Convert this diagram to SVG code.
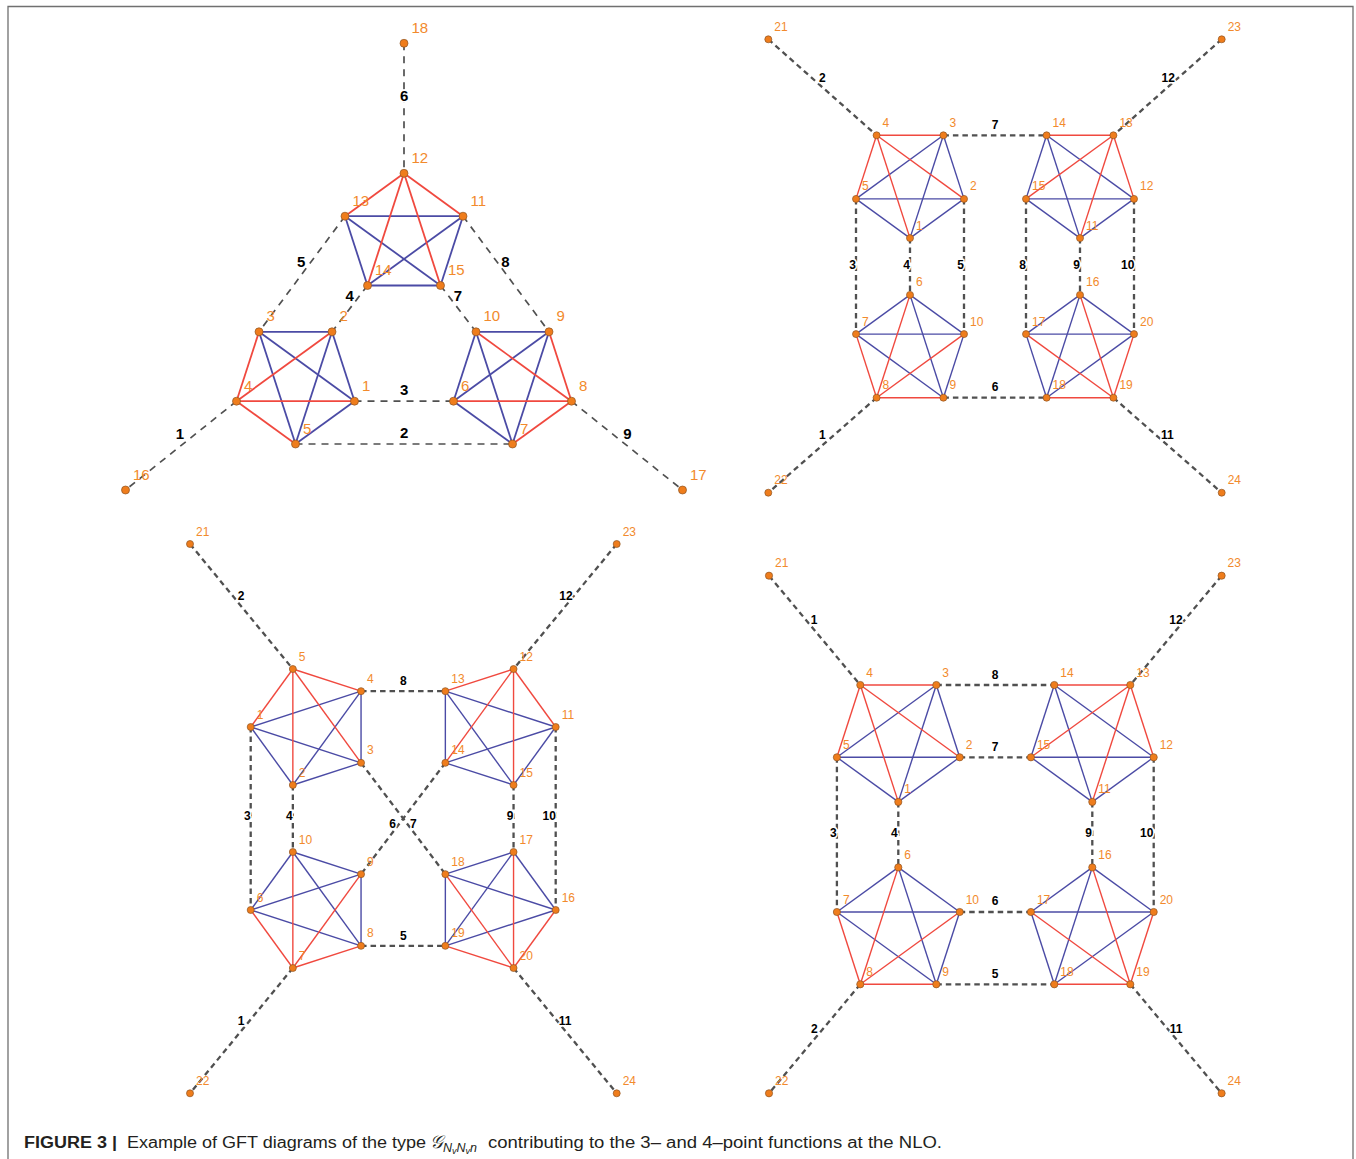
<svg xmlns="http://www.w3.org/2000/svg" width="1356" height="1159" viewBox="0 0 1356 1159">
<style>
.bg{fill:#fff}
.frame{fill:none;stroke:#707070;stroke-width:1.3}
.r{stroke:#f0493f;stroke-width:1.4;fill:none}
.b{stroke:#4b4ba5;stroke-width:1.4;fill:none}
.d{stroke:#505050;stroke-width:2.3;stroke-dasharray:5.5 4;fill:none}
.tl .r,.tl .b{stroke-width:1.8}
.tl .d{stroke-width:1.7;stroke-dasharray:7 6}
circle{fill:#ef7d1c;stroke:#8e5424;stroke-width:0.7}
.nl{fill:#f28a2c;font-family:"Liberation Sans",Arial,sans-serif;font-size:12px}
.tl .nl{font-size:15px}
.el{fill:#000;font-family:"Liberation Sans",Arial,sans-serif;font-size:12px;font-weight:bold;text-anchor:middle;stroke:#fff;stroke-width:3;paint-order:stroke;stroke-linejoin:round}
.tl .el{font-size:15px}
.cap{font-family:"Liberation Sans",Arial,sans-serif;font-size:16px;fill:#231f20}
</style>
<rect class="bg" x="0" y="0" width="1356" height="1159"/>
<path class="frame" d="M8,1159 V6.5 H1353 V1159"/>

<!-- ===================== TOP-LEFT ===================== -->
<g class="tl">
<g id="tl-connectors">
<line class="d" x1="404" y1="43.3" x2="404" y2="173.3"/>
<line class="d" x1="345" y1="216.2" x2="259" y2="331.8"/>
<line class="d" x1="367.5" y1="285.5" x2="332" y2="331.8"/>
<line class="d" x1="440.5" y1="285.5" x2="476" y2="331.8"/>
<line class="d" x1="463" y1="216.2" x2="549" y2="331.8"/>
<line class="d" x1="354.5" y1="401.2" x2="453.5" y2="401.2"/>
<line class="d" x1="295.5" y1="444" x2="512.5" y2="444"/>
<line class="d" x1="236.5" y1="401.2" x2="125.5" y2="490"/>
<line class="d" x1="571.5" y1="401.2" x2="682.5" y2="490"/>
<line class="b" x1="345" y1="216.2" x2="463" y2="216.2"/>
<line class="b" x1="345" y1="216.2" x2="367.5" y2="285.5"/>
<line class="b" x1="345" y1="216.2" x2="440.5" y2="285.5"/>
<line class="b" x1="463" y1="216.2" x2="367.5" y2="285.5"/>
<line class="b" x1="463" y1="216.2" x2="440.5" y2="285.5"/>
<line class="b" x1="367.5" y1="285.5" x2="440.5" y2="285.5"/>
<line class="b" x1="259" y1="331.8" x2="332" y2="331.8"/>
<line class="b" x1="259" y1="331.8" x2="354.5" y2="401.2"/>
<line class="b" x1="259" y1="331.8" x2="295.5" y2="444"/>
<line class="b" x1="332" y1="331.8" x2="295.5" y2="444"/>
<line class="b" x1="332" y1="331.8" x2="354.5" y2="401.2"/>
<line class="b" x1="295.5" y1="444" x2="354.5" y2="401.2"/>
<line class="b" x1="476" y1="331.8" x2="549" y2="331.8"/>
<line class="b" x1="476" y1="331.8" x2="453.5" y2="401.2"/>
<line class="b" x1="476" y1="331.8" x2="512.5" y2="444"/>
<line class="b" x1="549" y1="331.8" x2="453.5" y2="401.2"/>
<line class="b" x1="549" y1="331.8" x2="512.5" y2="444"/>
<line class="b" x1="453.5" y1="401.2" x2="512.5" y2="444"/>
<line class="r" x1="404" y1="173.3" x2="345" y2="216.2"/>
<line class="r" x1="404" y1="173.3" x2="463" y2="216.2"/>
<line class="r" x1="404" y1="173.3" x2="367.5" y2="285.5"/>
<line class="r" x1="404" y1="173.3" x2="440.5" y2="285.5"/>
<line class="r" x1="236.5" y1="401.2" x2="259" y2="331.8"/>
<line class="r" x1="236.5" y1="401.2" x2="332" y2="331.8"/>
<line class="r" x1="236.5" y1="401.2" x2="354.5" y2="401.2"/>
<line class="r" x1="236.5" y1="401.2" x2="295.5" y2="444"/>
<line class="r" x1="571.5" y1="401.2" x2="476" y2="331.8"/>
<line class="r" x1="571.5" y1="401.2" x2="549" y2="331.8"/>
<line class="r" x1="571.5" y1="401.2" x2="453.5" y2="401.2"/>
<line class="r" x1="571.5" y1="401.2" x2="512.5" y2="444"/>
<text class="el" x="404.2" y="101.3">6</text>
<text class="el" x="301.2" y="267">5</text>
<text class="el" x="505.4" y="267">8</text>
<text class="el" x="349.6" y="301">4</text>
<text class="el" x="458" y="301">7</text>
<text class="el" x="404.2" y="394.6">3</text>
<text class="el" x="404.2" y="438">2</text>
<text class="el" x="180" y="439.3">1</text>
<text class="el" x="627.3" y="439.3">9</text>
</g>
<g id="tl-n1"><circle cx="354.5" cy="401.2" r="4"/><text class="nl" x="362" y="390.7">1</text></g>
<g id="tl-n2"><circle cx="332" cy="331.8" r="4"/><text class="nl" x="339.5" y="321.3">2</text></g>
<g id="tl-n3"><circle cx="259" cy="331.8" r="4"/><text class="nl" x="266.5" y="321.3">3</text></g>
<g id="tl-n4"><circle cx="236.5" cy="401.2" r="4"/><text class="nl" x="244" y="390.7">4</text></g>
<g id="tl-n5"><circle cx="295.5" cy="444" r="4"/><text class="nl" x="303" y="433.5">5</text></g>
<g id="tl-n6"><circle cx="453.5" cy="401.2" r="4"/><text class="nl" x="461" y="390.7">6</text></g>
<g id="tl-n7"><circle cx="512.5" cy="444" r="4"/><text class="nl" x="520" y="433.5">7</text></g>
<g id="tl-n8"><circle cx="571.5" cy="401.2" r="4"/><text class="nl" x="579" y="390.7">8</text></g>
<g id="tl-n9"><circle cx="549" cy="331.8" r="4"/><text class="nl" x="556.5" y="321.3">9</text></g>
<g id="tl-n10"><circle cx="476" cy="331.8" r="4"/><text class="nl" x="483.5" y="321.3">10</text></g>
<g id="tl-n11"><circle cx="463" cy="216.2" r="4"/><text class="nl" x="470.5" y="205.7">11</text></g>
<g id="tl-n12"><circle cx="404" cy="173.3" r="4"/><text class="nl" x="411.5" y="162.8">12</text></g>
<g id="tl-n13"><circle cx="345" cy="216.2" r="4"/><text class="nl" x="352.5" y="205.7">13</text></g>
<g id="tl-n14"><circle cx="367.5" cy="285.5" r="4"/><text class="nl" x="375" y="275">14</text></g>
<g id="tl-n15"><circle cx="440.5" cy="285.5" r="4"/><text class="nl" x="448" y="275">15</text></g>
<g id="tl-n16"><circle cx="125.5" cy="490" r="4"/><text class="nl" x="133" y="479.5">16</text></g>
<g id="tl-n17"><circle cx="682.5" cy="490" r="4"/><text class="nl" x="690" y="479.5">17</text></g>
<g id="tl-n18"><circle cx="404" cy="43.3" r="4"/><text class="nl" x="411.5" y="32.8">18</text></g>
</g>

<!-- ===================== TOP-RIGHT ===================== -->
<g class="tr">
<g id="tr-connectors">
<line class="d" x1="768.3" y1="39.3" x2="876.6" y2="135.3"/>
<line class="d" x1="1221.7" y1="39.3" x2="1113.4" y2="135.3"/>
<line class="d" x1="943.4" y1="135.3" x2="1046.6" y2="135.3"/>
<line class="d" x1="856" y1="198.9" x2="856" y2="334.1"/>
<line class="d" x1="910" y1="238.1" x2="910" y2="294.9"/>
<line class="d" x1="964" y1="198.9" x2="964" y2="334.1"/>
<line class="d" x1="1026" y1="198.9" x2="1026" y2="334.1"/>
<line class="d" x1="1080" y1="238.1" x2="1080" y2="294.9"/>
<line class="d" x1="1134" y1="198.9" x2="1134" y2="334.1"/>
<line class="d" x1="943.4" y1="397.7" x2="1046.6" y2="397.7"/>
<line class="d" x1="876.6" y1="397.7" x2="768.3" y2="492.7"/>
<line class="d" x1="1113.4" y1="397.7" x2="1221.7" y2="492.7"/>
<line class="b" x1="943.4" y1="135.3" x2="856" y2="198.9"/>
<line class="b" x1="943.4" y1="135.3" x2="910" y2="238.1"/>
<line class="b" x1="943.4" y1="135.3" x2="964" y2="198.9"/>
<line class="b" x1="856" y1="198.9" x2="964" y2="198.9"/>
<line class="b" x1="856" y1="198.9" x2="910" y2="238.1"/>
<line class="b" x1="964" y1="198.9" x2="910" y2="238.1"/>
<line class="b" x1="1046.6" y1="135.3" x2="1026" y2="198.9"/>
<line class="b" x1="1046.6" y1="135.3" x2="1080" y2="238.1"/>
<line class="b" x1="1046.6" y1="135.3" x2="1134" y2="198.9"/>
<line class="b" x1="1026" y1="198.9" x2="1134" y2="198.9"/>
<line class="b" x1="1026" y1="198.9" x2="1080" y2="238.1"/>
<line class="b" x1="1080" y1="238.1" x2="1134" y2="198.9"/>
<line class="b" x1="910" y1="294.9" x2="856" y2="334.1"/>
<line class="b" x1="910" y1="294.9" x2="964" y2="334.1"/>
<line class="b" x1="910" y1="294.9" x2="943.4" y2="397.7"/>
<line class="b" x1="856" y1="334.1" x2="964" y2="334.1"/>
<line class="b" x1="856" y1="334.1" x2="943.4" y2="397.7"/>
<line class="b" x1="964" y1="334.1" x2="943.4" y2="397.7"/>
<line class="b" x1="1080" y1="294.9" x2="1026" y2="334.1"/>
<line class="b" x1="1080" y1="294.9" x2="1134" y2="334.1"/>
<line class="b" x1="1080" y1="294.9" x2="1046.6" y2="397.7"/>
<line class="b" x1="1026" y1="334.1" x2="1134" y2="334.1"/>
<line class="b" x1="1026" y1="334.1" x2="1046.6" y2="397.7"/>
<line class="b" x1="1134" y1="334.1" x2="1046.6" y2="397.7"/>
<line class="r" x1="876.6" y1="135.3" x2="943.4" y2="135.3"/>
<line class="r" x1="876.6" y1="135.3" x2="856" y2="198.9"/>
<line class="r" x1="876.6" y1="135.3" x2="910" y2="238.1"/>
<line class="r" x1="876.6" y1="135.3" x2="964" y2="198.9"/>
<line class="r" x1="1113.4" y1="135.3" x2="1046.6" y2="135.3"/>
<line class="r" x1="1113.4" y1="135.3" x2="1026" y2="198.9"/>
<line class="r" x1="1113.4" y1="135.3" x2="1080" y2="238.1"/>
<line class="r" x1="1113.4" y1="135.3" x2="1134" y2="198.9"/>
<line class="r" x1="876.6" y1="397.7" x2="910" y2="294.9"/>
<line class="r" x1="876.6" y1="397.7" x2="856" y2="334.1"/>
<line class="r" x1="876.6" y1="397.7" x2="964" y2="334.1"/>
<line class="r" x1="876.6" y1="397.7" x2="943.4" y2="397.7"/>
<line class="r" x1="1113.4" y1="397.7" x2="1080" y2="294.9"/>
<line class="r" x1="1113.4" y1="397.7" x2="1026" y2="334.1"/>
<line class="r" x1="1113.4" y1="397.7" x2="1134" y2="334.1"/>
<line class="r" x1="1113.4" y1="397.7" x2="1046.6" y2="397.7"/>
<text class="el" x="822.3" y="82">2</text>
<text class="el" x="1168.3" y="82">12</text>
<text class="el" x="995" y="129.3">7</text>
<text class="el" x="852.7" y="268.6">3</text>
<text class="el" x="906.7" y="268.6">4</text>
<text class="el" x="960.7" y="268.6">5</text>
<text class="el" x="1022.7" y="268.6">8</text>
<text class="el" x="1076.7" y="268.6">9</text>
<text class="el" x="1127.7" y="268.6">10</text>
<text class="el" x="995" y="391">6</text>
<text class="el" x="822.3" y="438.6">1</text>
<text class="el" x="1167.3" y="438.6">11</text>
</g>
<g id="tr-n1"><circle cx="910" cy="238.1" r="3.5"/><text class="nl" x="916" y="229.6">1</text></g>
<g id="tr-n2"><circle cx="964" cy="198.9" r="3.5"/><text class="nl" x="970" y="190.4">2</text></g>
<g id="tr-n3"><circle cx="943.4" cy="135.3" r="3.5"/><text class="nl" x="949.4" y="126.8">3</text></g>
<g id="tr-n4"><circle cx="876.6" cy="135.3" r="3.5"/><text class="nl" x="882.6" y="126.8">4</text></g>
<g id="tr-n5"><circle cx="856" cy="198.9" r="3.5"/><text class="nl" x="862" y="190.4">5</text></g>
<g id="tr-n6"><circle cx="910" cy="294.9" r="3.5"/><text class="nl" x="916" y="286.4">6</text></g>
<g id="tr-n7"><circle cx="856" cy="334.1" r="3.5"/><text class="nl" x="862" y="325.6">7</text></g>
<g id="tr-n8"><circle cx="876.6" cy="397.7" r="3.5"/><text class="nl" x="882.6" y="389.2">8</text></g>
<g id="tr-n9"><circle cx="943.4" cy="397.7" r="3.5"/><text class="nl" x="949.4" y="389.2">9</text></g>
<g id="tr-n10"><circle cx="964" cy="334.1" r="3.5"/><text class="nl" x="970" y="325.6">10</text></g>
<g id="tr-n11"><circle cx="1080" cy="238.1" r="3.5"/><text class="nl" x="1086" y="229.6">11</text></g>
<g id="tr-n12"><circle cx="1134" cy="198.9" r="3.5"/><text class="nl" x="1140" y="190.4">12</text></g>
<g id="tr-n13"><circle cx="1113.4" cy="135.3" r="3.5"/><text class="nl" x="1119.4" y="126.8">13</text></g>
<g id="tr-n14"><circle cx="1046.6" cy="135.3" r="3.5"/><text class="nl" x="1052.6" y="126.8">14</text></g>
<g id="tr-n15"><circle cx="1026" cy="198.9" r="3.5"/><text class="nl" x="1032" y="190.4">15</text></g>
<g id="tr-n16"><circle cx="1080" cy="294.9" r="3.5"/><text class="nl" x="1086" y="286.4">16</text></g>
<g id="tr-n17"><circle cx="1026" cy="334.1" r="3.5"/><text class="nl" x="1032" y="325.6">17</text></g>
<g id="tr-n18"><circle cx="1046.6" cy="397.7" r="3.5"/><text class="nl" x="1052.6" y="389.2">18</text></g>
<g id="tr-n19"><circle cx="1113.4" cy="397.7" r="3.5"/><text class="nl" x="1119.4" y="389.2">19</text></g>
<g id="tr-n20"><circle cx="1134" cy="334.1" r="3.5"/><text class="nl" x="1140" y="325.6">20</text></g>
<g id="tr-n21"><circle cx="768.3" cy="39.3" r="3.5"/><text class="nl" x="774.3" y="30.8">21</text></g>
<g id="tr-n22"><circle cx="768.3" cy="492.7" r="3.5"/><text class="nl" x="774.3" y="484.2">22</text></g>
<g id="tr-n23"><circle cx="1221.7" cy="39.3" r="3.5"/><text class="nl" x="1227.7" y="30.8">23</text></g>
<g id="tr-n24"><circle cx="1221.7" cy="492.7" r="3.5"/><text class="nl" x="1227.7" y="484.2">24</text></g>
</g>

<!-- ===================== BOTTOM-LEFT ===================== -->
<g class="bl">
<g id="bl-connectors">
<line class="d" x1="190" y1="544" x2="292.85" y2="669"/>
<line class="d" x1="616.7" y1="544" x2="513.55" y2="669"/>
<line class="d" x1="361.05" y1="691.15" x2="445.35" y2="691.15"/>
<line class="d" x1="250.7" y1="727" x2="250.7" y2="910"/>
<line class="d" x1="292.85" y1="785" x2="292.85" y2="852"/>
<line class="d" x1="513.55" y1="785" x2="513.55" y2="852"/>
<line class="d" x1="555.7" y1="727" x2="555.7" y2="910"/>
<line class="d" x1="361.05" y1="762.85" x2="445.35" y2="874.15"/>
<line class="d" x1="445.35" y1="762.85" x2="361.05" y2="874.15"/>
<line class="d" x1="361.05" y1="945.85" x2="445.35" y2="945.85"/>
<line class="d" x1="292.85" y1="968" x2="190" y2="1093.3"/>
<line class="d" x1="513.55" y1="968" x2="616.7" y2="1093.3"/>
<line class="b" x1="250.7" y1="727" x2="361.05" y2="691.15"/>
<line class="b" x1="250.7" y1="727" x2="361.05" y2="762.85"/>
<line class="b" x1="250.7" y1="727" x2="292.85" y2="785"/>
<line class="b" x1="361.05" y1="691.15" x2="361.05" y2="762.85"/>
<line class="b" x1="361.05" y1="691.15" x2="292.85" y2="785"/>
<line class="b" x1="292.85" y1="785" x2="361.05" y2="762.85"/>
<line class="b" x1="445.35" y1="691.15" x2="555.7" y2="727"/>
<line class="b" x1="445.35" y1="691.15" x2="445.35" y2="762.85"/>
<line class="b" x1="445.35" y1="691.15" x2="513.55" y2="785"/>
<line class="b" x1="555.7" y1="727" x2="445.35" y2="762.85"/>
<line class="b" x1="555.7" y1="727" x2="513.55" y2="785"/>
<line class="b" x1="445.35" y1="762.85" x2="513.55" y2="785"/>
<line class="b" x1="292.85" y1="852" x2="361.05" y2="874.15"/>
<line class="b" x1="292.85" y1="852" x2="250.7" y2="910"/>
<line class="b" x1="292.85" y1="852" x2="361.05" y2="945.85"/>
<line class="b" x1="361.05" y1="874.15" x2="250.7" y2="910"/>
<line class="b" x1="361.05" y1="874.15" x2="361.05" y2="945.85"/>
<line class="b" x1="250.7" y1="910" x2="361.05" y2="945.85"/>
<line class="b" x1="445.35" y1="874.15" x2="513.55" y2="852"/>
<line class="b" x1="445.35" y1="874.15" x2="555.7" y2="910"/>
<line class="b" x1="445.35" y1="874.15" x2="445.35" y2="945.85"/>
<line class="b" x1="513.55" y1="852" x2="555.7" y2="910"/>
<line class="b" x1="513.55" y1="852" x2="445.35" y2="945.85"/>
<line class="b" x1="555.7" y1="910" x2="445.35" y2="945.85"/>
<line class="r" x1="292.85" y1="669" x2="361.05" y2="691.15"/>
<line class="r" x1="292.85" y1="669" x2="250.7" y2="727"/>
<line class="r" x1="292.85" y1="669" x2="292.85" y2="785"/>
<line class="r" x1="292.85" y1="669" x2="361.05" y2="762.85"/>
<line class="r" x1="513.55" y1="669" x2="445.35" y2="691.15"/>
<line class="r" x1="513.55" y1="669" x2="555.7" y2="727"/>
<line class="r" x1="513.55" y1="669" x2="445.35" y2="762.85"/>
<line class="r" x1="513.55" y1="669" x2="513.55" y2="785"/>
<line class="r" x1="292.85" y1="968" x2="292.85" y2="852"/>
<line class="r" x1="292.85" y1="968" x2="361.05" y2="874.15"/>
<line class="r" x1="292.85" y1="968" x2="250.7" y2="910"/>
<line class="r" x1="292.85" y1="968" x2="361.05" y2="945.85"/>
<line class="r" x1="513.55" y1="968" x2="445.35" y2="874.15"/>
<line class="r" x1="513.55" y1="968" x2="513.55" y2="852"/>
<line class="r" x1="513.55" y1="968" x2="555.7" y2="910"/>
<line class="r" x1="513.55" y1="968" x2="445.35" y2="945.85"/>
<text class="el" x="241" y="600.3">2</text>
<text class="el" x="566" y="600.3">12</text>
<text class="el" x="403.3" y="685.3">8</text>
<text class="el" x="247.3" y="820">3</text>
<text class="el" x="289.3" y="820">4</text>
<text class="el" x="510" y="820">9</text>
<text class="el" x="549.3" y="820">10</text>
<text class="el" x="392.7" y="828.3">6</text>
<text class="el" x="413.3" y="828.3">7</text>
<text class="el" x="403.3" y="940.3">5</text>
<text class="el" x="241" y="1025">1</text>
<text class="el" x="565" y="1025">11</text>
</g>
<g id="bl-n1"><circle cx="250.7" cy="727" r="3.5"/><text class="nl" x="256.7" y="718.5">1</text></g>
<g id="bl-n2"><circle cx="292.85" cy="785" r="3.5"/><text class="nl" x="298.85" y="776.5">2</text></g>
<g id="bl-n3"><circle cx="361.05" cy="762.85" r="3.5"/><text class="nl" x="367.05" y="754.35">3</text></g>
<g id="bl-n4"><circle cx="361.05" cy="691.15" r="3.5"/><text class="nl" x="367.05" y="682.65">4</text></g>
<g id="bl-n5"><circle cx="292.85" cy="669" r="3.5"/><text class="nl" x="298.85" y="660.5">5</text></g>
<g id="bl-n6"><circle cx="250.7" cy="910" r="3.5"/><text class="nl" x="256.7" y="901.5">6</text></g>
<g id="bl-n7"><circle cx="292.85" cy="968" r="3.5"/><text class="nl" x="298.85" y="959.5">7</text></g>
<g id="bl-n8"><circle cx="361.05" cy="945.85" r="3.5"/><text class="nl" x="367.05" y="937.35">8</text></g>
<g id="bl-n9"><circle cx="361.05" cy="874.15" r="3.5"/><text class="nl" x="367.05" y="865.65">9</text></g>
<g id="bl-n10"><circle cx="292.85" cy="852" r="3.5"/><text class="nl" x="298.85" y="843.5">10</text></g>
<g id="bl-n11"><circle cx="555.7" cy="727" r="3.5"/><text class="nl" x="561.7" y="718.5">11</text></g>
<g id="bl-n12"><circle cx="513.55" cy="669" r="3.5"/><text class="nl" x="519.55" y="660.5">12</text></g>
<g id="bl-n13"><circle cx="445.35" cy="691.15" r="3.5"/><text class="nl" x="451.35" y="682.65">13</text></g>
<g id="bl-n14"><circle cx="445.35" cy="762.85" r="3.5"/><text class="nl" x="451.35" y="754.35">14</text></g>
<g id="bl-n15"><circle cx="513.55" cy="785" r="3.5"/><text class="nl" x="519.55" y="776.5">15</text></g>
<g id="bl-n16"><circle cx="555.7" cy="910" r="3.5"/><text class="nl" x="561.7" y="901.5">16</text></g>
<g id="bl-n17"><circle cx="513.55" cy="852" r="3.5"/><text class="nl" x="519.55" y="843.5">17</text></g>
<g id="bl-n18"><circle cx="445.35" cy="874.15" r="3.5"/><text class="nl" x="451.35" y="865.65">18</text></g>
<g id="bl-n19"><circle cx="445.35" cy="945.85" r="3.5"/><text class="nl" x="451.35" y="937.35">19</text></g>
<g id="bl-n20"><circle cx="513.55" cy="968" r="3.5"/><text class="nl" x="519.55" y="959.5">20</text></g>
<g id="bl-n21"><circle cx="190" cy="544" r="3.5"/><text class="nl" x="196" y="535.5">21</text></g>
<g id="bl-n22"><circle cx="190" cy="1093.3" r="3.5"/><text class="nl" x="196" y="1084.8">22</text></g>
<g id="bl-n23"><circle cx="616.7" cy="544" r="3.5"/><text class="nl" x="622.7" y="535.5">23</text></g>
<g id="bl-n24"><circle cx="616.7" cy="1093.3" r="3.5"/><text class="nl" x="622.7" y="1084.8">24</text></g>
</g>

<!-- ===================== BOTTOM-RIGHT ===================== -->
<g class="br">
<g id="br-connectors">
<line class="d" x1="769" y1="575.7" x2="860.3" y2="685"/>
<line class="d" x1="1221.6" y1="575.7" x2="1130.3" y2="685"/>
<line class="d" x1="936.3" y1="685" x2="1054.3" y2="685"/>
<line class="d" x1="959.7" y1="757.3" x2="1030.9" y2="757.3"/>
<line class="d" x1="836.9" y1="757.3" x2="836.9" y2="912"/>
<line class="d" x1="898.3" y1="801.9" x2="898.3" y2="867.4"/>
<line class="d" x1="1092.3" y1="801.9" x2="1092.3" y2="867.4"/>
<line class="d" x1="1153.7" y1="757.3" x2="1153.7" y2="912"/>
<line class="d" x1="959.7" y1="912" x2="1030.9" y2="912"/>
<line class="d" x1="936.3" y1="984.3" x2="1054.3" y2="984.3"/>
<line class="d" x1="860.3" y1="984.3" x2="769" y2="1093.3"/>
<line class="d" x1="1130.3" y1="984.3" x2="1221.6" y2="1093.3"/>
<line class="b" x1="936.3" y1="685" x2="836.9" y2="757.3"/>
<line class="b" x1="936.3" y1="685" x2="898.3" y2="801.9"/>
<line class="b" x1="936.3" y1="685" x2="959.7" y2="757.3"/>
<line class="b" x1="836.9" y1="757.3" x2="959.7" y2="757.3"/>
<line class="b" x1="836.9" y1="757.3" x2="898.3" y2="801.9"/>
<line class="b" x1="959.7" y1="757.3" x2="898.3" y2="801.9"/>
<line class="b" x1="1054.3" y1="685" x2="1030.9" y2="757.3"/>
<line class="b" x1="1054.3" y1="685" x2="1092.3" y2="801.9"/>
<line class="b" x1="1054.3" y1="685" x2="1153.7" y2="757.3"/>
<line class="b" x1="1030.9" y1="757.3" x2="1153.7" y2="757.3"/>
<line class="b" x1="1030.9" y1="757.3" x2="1092.3" y2="801.9"/>
<line class="b" x1="1092.3" y1="801.9" x2="1153.7" y2="757.3"/>
<line class="b" x1="898.3" y1="867.4" x2="836.9" y2="912"/>
<line class="b" x1="898.3" y1="867.4" x2="959.7" y2="912"/>
<line class="b" x1="898.3" y1="867.4" x2="936.3" y2="984.3"/>
<line class="b" x1="836.9" y1="912" x2="959.7" y2="912"/>
<line class="b" x1="836.9" y1="912" x2="936.3" y2="984.3"/>
<line class="b" x1="959.7" y1="912" x2="936.3" y2="984.3"/>
<line class="b" x1="1092.3" y1="867.4" x2="1030.9" y2="912"/>
<line class="b" x1="1092.3" y1="867.4" x2="1153.7" y2="912"/>
<line class="b" x1="1092.3" y1="867.4" x2="1054.3" y2="984.3"/>
<line class="b" x1="1030.9" y1="912" x2="1153.7" y2="912"/>
<line class="b" x1="1030.9" y1="912" x2="1054.3" y2="984.3"/>
<line class="b" x1="1153.7" y1="912" x2="1054.3" y2="984.3"/>
<line class="r" x1="860.3" y1="685" x2="936.3" y2="685"/>
<line class="r" x1="860.3" y1="685" x2="836.9" y2="757.3"/>
<line class="r" x1="860.3" y1="685" x2="898.3" y2="801.9"/>
<line class="r" x1="860.3" y1="685" x2="959.7" y2="757.3"/>
<line class="r" x1="1130.3" y1="685" x2="1054.3" y2="685"/>
<line class="r" x1="1130.3" y1="685" x2="1030.9" y2="757.3"/>
<line class="r" x1="1130.3" y1="685" x2="1092.3" y2="801.9"/>
<line class="r" x1="1130.3" y1="685" x2="1153.7" y2="757.3"/>
<line class="r" x1="860.3" y1="984.3" x2="898.3" y2="867.4"/>
<line class="r" x1="860.3" y1="984.3" x2="836.9" y2="912"/>
<line class="r" x1="860.3" y1="984.3" x2="959.7" y2="912"/>
<line class="r" x1="860.3" y1="984.3" x2="936.3" y2="984.3"/>
<line class="r" x1="1130.3" y1="984.3" x2="1092.3" y2="867.4"/>
<line class="r" x1="1130.3" y1="984.3" x2="1030.9" y2="912"/>
<line class="r" x1="1130.3" y1="984.3" x2="1153.7" y2="912"/>
<line class="r" x1="1130.3" y1="984.3" x2="1054.3" y2="984.3"/>
<text class="el" x="814" y="624.3">1</text>
<text class="el" x="1176" y="624.3">12</text>
<text class="el" x="995" y="679.3">8</text>
<text class="el" x="995" y="751">7</text>
<text class="el" x="833.3" y="836.6">3</text>
<text class="el" x="894.3" y="836.6">4</text>
<text class="el" x="1088.7" y="836.6">9</text>
<text class="el" x="1146.7" y="836.6">10</text>
<text class="el" x="995" y="905.3">6</text>
<text class="el" x="995" y="977.6">5</text>
<text class="el" x="814.3" y="1032.6">2</text>
<text class="el" x="1176" y="1032.6">11</text>
</g>
<g id="br-n1"><circle cx="898.3" cy="801.9" r="3.6"/><text class="nl" x="904.3" y="793.4">1</text></g>
<g id="br-n2"><circle cx="959.7" cy="757.3" r="3.6"/><text class="nl" x="965.7" y="748.8">2</text></g>
<g id="br-n3"><circle cx="936.3" cy="685" r="3.6"/><text class="nl" x="942.3" y="676.5">3</text></g>
<g id="br-n4"><circle cx="860.3" cy="685" r="3.6"/><text class="nl" x="866.3" y="676.5">4</text></g>
<g id="br-n5"><circle cx="836.9" cy="757.3" r="3.6"/><text class="nl" x="842.9" y="748.8">5</text></g>
<g id="br-n6"><circle cx="898.3" cy="867.4" r="3.6"/><text class="nl" x="904.3" y="858.9">6</text></g>
<g id="br-n7"><circle cx="836.9" cy="912" r="3.6"/><text class="nl" x="842.9" y="903.5">7</text></g>
<g id="br-n8"><circle cx="860.3" cy="984.3" r="3.6"/><text class="nl" x="866.3" y="975.8">8</text></g>
<g id="br-n9"><circle cx="936.3" cy="984.3" r="3.6"/><text class="nl" x="942.3" y="975.8">9</text></g>
<g id="br-n10"><circle cx="959.7" cy="912" r="3.6"/><text class="nl" x="965.7" y="903.5">10</text></g>
<g id="br-n11"><circle cx="1092.3" cy="801.9" r="3.6"/><text class="nl" x="1098.3" y="793.4">11</text></g>
<g id="br-n12"><circle cx="1153.7" cy="757.3" r="3.6"/><text class="nl" x="1159.7" y="748.8">12</text></g>
<g id="br-n13"><circle cx="1130.3" cy="685" r="3.6"/><text class="nl" x="1136.3" y="676.5">13</text></g>
<g id="br-n14"><circle cx="1054.3" cy="685" r="3.6"/><text class="nl" x="1060.3" y="676.5">14</text></g>
<g id="br-n15"><circle cx="1030.9" cy="757.3" r="3.6"/><text class="nl" x="1036.9" y="748.8">15</text></g>
<g id="br-n16"><circle cx="1092.3" cy="867.4" r="3.6"/><text class="nl" x="1098.3" y="858.9">16</text></g>
<g id="br-n17"><circle cx="1030.9" cy="912" r="3.6"/><text class="nl" x="1036.9" y="903.5">17</text></g>
<g id="br-n18"><circle cx="1054.3" cy="984.3" r="3.6"/><text class="nl" x="1060.3" y="975.8">18</text></g>
<g id="br-n19"><circle cx="1130.3" cy="984.3" r="3.6"/><text class="nl" x="1136.3" y="975.8">19</text></g>
<g id="br-n20"><circle cx="1153.7" cy="912" r="3.6"/><text class="nl" x="1159.7" y="903.5">20</text></g>
<g id="br-n21"><circle cx="769" cy="575.7" r="3.6"/><text class="nl" x="775" y="567.2">21</text></g>
<g id="br-n22"><circle cx="769" cy="1093.3" r="3.6"/><text class="nl" x="775" y="1084.8">22</text></g>
<g id="br-n23"><circle cx="1221.6" cy="575.7" r="3.6"/><text class="nl" x="1227.6" y="567.2">23</text></g>
<g id="br-n24"><circle cx="1221.6" cy="1093.3" r="3.6"/><text class="nl" x="1227.6" y="1084.8">24</text></g>
</g>

<!-- ===================== CAPTION ===================== -->
<g id="caption" class="cap">
<text x="24" y="1148" font-weight="bold" textLength="93" lengthAdjust="spacingAndGlyphs">FIGURE 3 |</text>
<text x="127" y="1148" textLength="299" lengthAdjust="spacingAndGlyphs">Example of GFT diagrams of the type</text>
<text x="430" y="1148"><tspan font-family="'DejaVu Sans','Liberation Serif',serif" font-style="italic" font-size="18">𝒢</tspan><tspan font-size="12.5" font-style="italic" dy="4">N</tspan><tspan font-size="9" font-style="italic" dy="2">v</tspan><tspan font-size="12.5" font-style="italic" dy="-2">N</tspan><tspan font-size="9" font-style="italic" dy="2">v</tspan><tspan font-size="12.5" font-style="italic" dy="-2">n</tspan></text>
<text x="488" y="1148" textLength="454" lengthAdjust="spacingAndGlyphs">contributing to the 3– and 4–point functions at the NLO.</text>
</g>
</svg>
